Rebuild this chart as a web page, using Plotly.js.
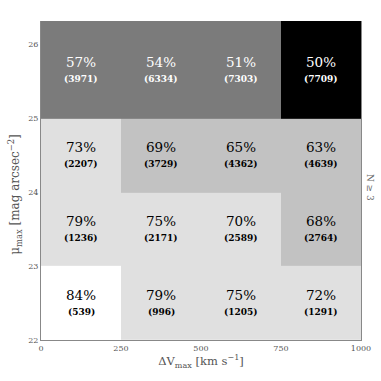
<!DOCTYPE html>
<html><head><meta charset="utf-8">
<script src="https://cdn.plot.ly/plotly-3.0.1.min.js"></script>
<style>html,body{margin:0;padding:0;background:#fff}#c{width:381px;height:381px}</style>
</head><body><div id="c"></div>
<script>
// bin edges
const xEdges = [0, 250, 500, 750, 1000];
const yEdges = [22, 23, 24, 25, 27];
// rows from bottom (22-23) to top (25+)
const pctRows = [
  [84, 79, 75, 72],
  [79, 75, 70, 68],
  [73, 69, 65, 63],
  [57, 54, 51, 50]
];
const countRows = [
  [539, 996, 1205, 1291],
  [1236, 2171, 2589, 2764],
  [2207, 3729, 4362, 4639],
  [3971, 6334, 7303, 7709]
];
const shadeRows = [
  [0, 1, 1, 1],
  [1, 1, 1, 2],
  [1, 2, 2, 2],
  [3, 3, 3, 4]
];
const xTicks = [0, 250, 500, 750, 1000];
const yTicks = [22, 23, 24, 25, 26];
const yTop = 26.32;

const shadeColors = ['#ffffff', '#e0e0e0', '#c2c2c2', '#7b7b7b', '#000000'];
const cs = [];
shadeColors.forEach((c, i) => {
  cs.push([i / 5, c]); cs.push([(i + 1) / 5, c]);
});
cs[cs.length - 1][0] = 1;

const trace = {
  type: 'heatmap',
  x: xEdges, y: yEdges, z: shadeRows,
  zmin: 0, zmax: 5,
  colorscale: cs, showscale: false, hoverinfo: 'skip'
};

const ann = [];
const serif = '"DejaVu Serif", "Liberation Serif", serif';
for (let r = 0; r < pctRows.length; r++) {
  const y0 = yEdges[r], y1 = Math.min(yEdges[r + 1], yTop);
  const yc = (y0 + y1) / 2;
  for (let c = 0; c < pctRows[r].length; c++) {
    const xc = (xEdges[c] + xEdges[c + 1]) / 2;
    const col = shadeRows[r][c] >= 3 ? '#ffffff' : '#000000';
    ann.push({x: xc, y: yc, xref: 'x', yref: 'y', text: pctRows[r][c] + '%', showarrow: false,
      yshift: 8, font: {family: serif, size: 13.5, color: col}});
    ann.push({x: xc, y: yc, xref: 'x', yref: 'y', text: '<b>(' + countRows[r][c] + ')</b>', showarrow: false,
      yshift: -9, font: {family: serif, size: 9, color: col}});
  }
}
ann.push({xref: 'paper', yref: 'paper', x: 1, xshift: 9, y: 0.48, text: 'N ≥ 3', textangle: 90, showarrow: false,
  xanchor: 'center', yanchor: 'middle', font: {family: serif, size: 9, color: '#666'}});
ann.push({xref: 'paper', yref: 'paper', x: 0, xshift: -26, y: 0.455, text: 'μ<sub>max</sub> [mag arcsec<sup>−2</sup>]',
  textangle: -90, showarrow: false, xanchor: 'center', yanchor: 'middle',
  font: {family: serif, size: 12, color: '#555'}});

const layout = {
  width: 381, height: 381,
  margin: {l: 41, r: 20, t: 21, b: 41},
  paper_bgcolor: '#fff', plot_bgcolor: '#fff',
  showlegend: false,
  xaxis: {range: [0, 1000], tickvals: xTicks, ticktext: xTicks.map(String), ticks: '',
    showgrid: true, gridcolor: 'rgba(255,255,255,0.35)', gridwidth: 1, layer: 'above traces',
    showline: true, linecolor: '#888', linewidth: 1, zeroline: false,
    tickfont: {family: serif, size: 8, color: '#555'},
    title: {text: 'ΔV<sub>max</sub> [km s<sup>−1</sup>]', font: {family: serif, size: 11.5, color: '#555'}, standoff: 5}},
  yaxis: {range: [22, yTop], tickvals: yTicks, ticktext: yTicks.map(String), ticks: '',
    showgrid: true, gridcolor: 'rgba(255,255,255,0.25)', gridwidth: 1, layer: 'above traces',
    showline: true, mirror: true, linecolor: '#888', linewidth: 1, zeroline: false,
    tickfont: {family: serif, size: 8, color: '#555'}},
  annotations: ann
};
Plotly.newPlot('c', [trace], layout, {displayModeBar: false, staticPlot: true});
</script></body></html>
